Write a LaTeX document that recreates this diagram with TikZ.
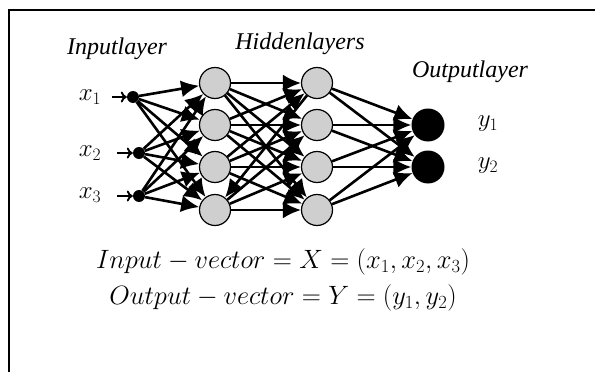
\RequirePackage{fix-cm}
\documentclass[tikz,border=0pt]{standalone}
\usepackage{fontspec}
\setmainfont{Liberation Serif}
\usetikzlibrary{arrows.meta}

\begin{document}
\begin{tikzpicture}[x=1pt,y=-1pt,
  neuron/.style={circle,draw,line width=1.2pt,fill=gray!38,minimum size=31pt,inner sep=0pt},
  innode/.style={circle,fill=black,minimum size=12pt,inner sep=0pt},
  outnode/.style={circle,fill=black,minimum size=33pt,inner sep=0pt},
  link/.style={line width=2.6pt,-{Latex[length=18pt,width=17pt]}},
  feed/.style={line width=1.9pt,-{To[length=6pt,width=11pt]}},
  title/.style={font=\fontsize{24}{28}\selectfont\itshape},
  lbl/.style={font=\fontsize{25}{29}\selectfont},
  vec/.style={font=\fontsize{26.5}{30}\selectfont}]
\useasboundingbox (0,0) rectangle (595,372);
\draw[line width=2pt] (9,372) -- (9,10) -- (595,10);

% layer titles
\node[title] (tin) at (117,49) {Inputlayer};
\node[title] (thid) at (300,44) {Hiddenlayers};
\node[title] (tout) at (470,72) {Outputlayer};

% neurons
\node[innode] (i1) at (133,97) {};
\node[innode] (i2) at (139,153) {};
\node[innode] (i3) at (139,196) {};
\foreach \k/\y in {1/83,2/125,3/167,4/210}{
  \node[neuron] (ha\k) at (215,\y) {};
  \node[neuron] (hb\k) at (317,\y) {};
}
\node[outnode] (o1) at (428,125) {};
\node[outnode] (o2) at (428,167) {};

% labels
\node[lbl] (lx1) at (90,97) {$x_1$};
\node[lbl] (lx2) at (90,153) {$x_2$};
\node[lbl] (lx3) at (90,195) {$x_3$};
\node[lbl] (ly1) at (488,124) {$y_1$};
\node[lbl] (ly2) at (488,166) {$y_2$};
\coordinate (s1) at (112,97);
\coordinate (s2) at (117,153);
\coordinate (s3) at (117,196);

% connections
\foreach \i in {1,2,3}{
  \draw[feed] (s\i) -- (i\i);
  \foreach \k in {1,2,3,4}
    \draw[link] (i\i) -- (ha\k);
}
\foreach \k in {1,2,3,4}{
  \foreach \m in {1,2,3,4}{
    \ifnum\k\m=41
      \draw[link] (hb\m) -- (ha\k);
    \else
      \draw[link] (ha\k) -- (hb\m);
    \fi
  }
  \draw[link] (hb\k) -- (o1);
  \draw[link] (hb\k) -- (o2);
}

% vectors
\node[vec] (vin) at (283,262) {$Input-vector=X=(x_1,x_2,x_3)$};
\node[vec] (vout) at (283,298) {$Output-vector=Y=(y_1,y_2)$};
\end{tikzpicture}
\end{document}
